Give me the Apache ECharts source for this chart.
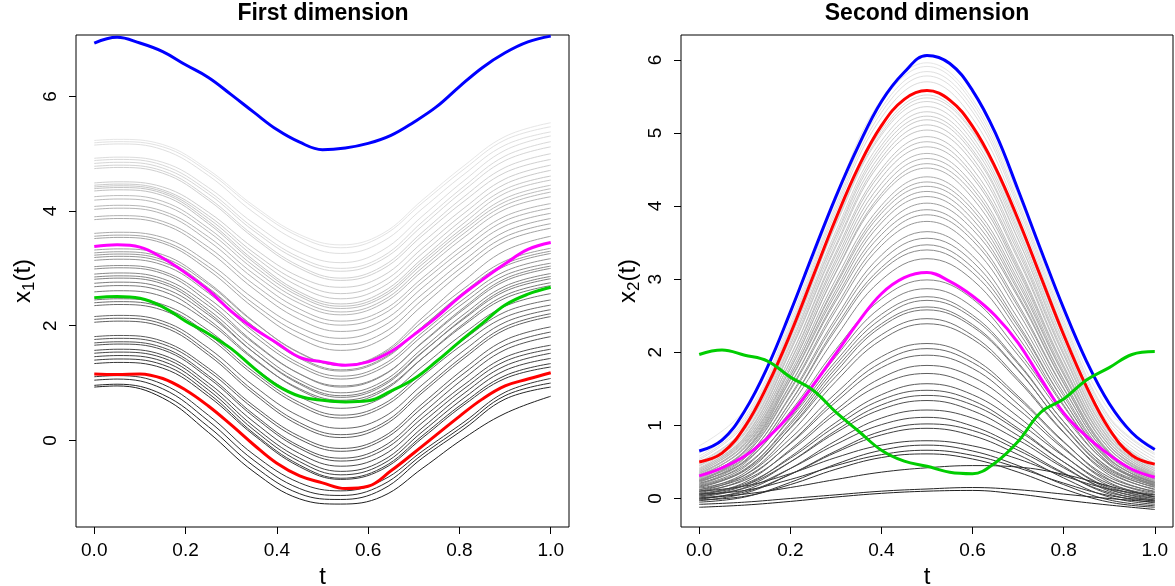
<!DOCTYPE html>
<html>
<head>
<meta charset="utf-8">
<script src="https://cdn.jsdelivr.net/npm/echarts@6/dist/echarts.min.js"></script>
<style>
  html, body { margin: 0; padding: 0; background: #ffffff; }
  #chart { width: 1175px; height: 586px; }
</style>
</head>
<body>
<div id="chart"></div>
<script>
// Sampling positions in t
const tFirst = [0, 0.05, 0.15, 0.25, 0.35, 0.45, 0.54, 0.63, 0.72, 0.81, 0.9, 1.0];
const tSecond = [0, 0.1, 0.2, 0.3, 0.4, 0.5, 0.6, 0.7, 0.8, 0.9, 1.0];
const tFine = [0, 0.05, 0.1, 0.15, 0.2, 0.25, 0.3, 0.35, 0.4, 0.45, 0.5,
               0.55, 0.6, 0.65, 0.7, 0.75, 0.8, 0.85, 0.9, 0.95, 1.0];

// Tick positions
const xTicks = [0, 0.2, 0.4, 0.6, 0.8, 1.0];
const yTicksFirst = [0, 2, 4, 6];
const yTicksSecond = [0, 1, 2, 3, 4, 5, 6];

// First dimension: sample curves (values at tFirst), top to bottom
const firstDimGray = [
  [5.23,5.25,5.16,4.72,4.09,3.59,3.41,3.60,4.20,4.79,5.30,5.54],
  [5.19,5.21,5.12,4.68,4.05,3.55,3.36,3.56,4.15,4.73,5.24,5.47],
  [5.15,5.17,5.07,4.62,3.97,3.46,3.26,3.46,4.05,4.64,5.15,5.38],
  [4.92,4.94,4.85,4.41,3.78,3.28,3.10,3.31,3.92,4.53,5.06,5.31],
  [4.88,4.90,4.80,4.35,3.70,3.19,3.00,3.20,3.82,4.43,4.96,5.21],
  [4.83,4.85,4.75,4.30,3.65,3.14,2.95,3.15,3.75,4.36,4.88,5.12],
  [4.78,4.80,4.70,4.23,3.57,3.04,2.83,3.03,3.64,4.25,4.76,5.00],
  [4.74,4.76,4.66,4.19,3.53,3.00,2.79,2.98,3.58,4.17,4.67,4.90],
  [4.49,4.51,4.42,3.98,3.35,2.85,2.67,2.86,3.46,4.05,4.56,4.80],
  [4.45,4.47,4.37,3.92,3.27,2.76,2.56,2.76,3.36,3.96,4.47,4.71],
  [4.42,4.44,4.34,3.87,3.21,2.68,2.47,2.67,3.27,3.87,4.38,4.61],
  [4.39,4.41,4.31,3.82,3.14,2.59,2.38,2.58,3.18,3.79,4.31,4.54],
  [4.35,4.37,4.27,3.78,3.10,2.55,2.34,2.53,3.13,3.72,4.22,4.45],
  [4.25,4.27,4.17,3.70,3.04,2.51,2.30,2.49,3.08,3.67,4.16,4.39],
  [4.19,4.21,4.11,3.64,2.98,2.45,2.24,2.43,3.02,3.61,4.10,4.33],
  [4.08,4.10,4.00,3.55,2.90,2.39,2.19,2.38,2.96,3.54,4.03,4.25],
  [4.03,4.05,3.95,3.48,2.82,2.29,2.08,2.26,2.84,3.42,3.91,4.13],
  [3.90,3.92,3.82,3.37,2.72,2.21,2.01,2.19,2.77,3.34,3.83,4.05],
  [3.85,3.87,3.77,3.30,2.64,2.11,1.90,2.08,2.67,3.25,3.74,3.96],
  [3.61,3.63,3.54,3.10,2.47,1.97,1.78,1.98,2.56,3.14,3.64,3.87],
  [3.56,3.58,3.48,3.03,2.38,1.87,1.67,1.86,2.46,3.05,3.55,3.78],
  [3.52,3.54,3.44,2.97,2.31,1.78,1.57,1.76,2.36,2.96,3.47,3.70],
  [3.32,3.34,3.24,2.75,2.07,1.52,1.31,1.52,2.15,2.78,3.31,3.56],
  [3.27,3.29,3.19,2.72,2.06,1.53,1.31,1.50,2.08,2.65,3.13,3.35],
  [3.23,3.25,3.15,2.66,1.98,1.43,1.21,1.40,1.99,2.59,3.08,3.30],
  [3.19,3.21,3.11,2.64,1.98,1.45,1.23,1.42,1.99,2.57,3.04,3.26],
  [3.14,3.16,3.06,2.57,1.89,1.34,1.12,1.31,1.89,2.47,2.95,3.17],
  [3.03,3.05,2.95,2.48,1.82,1.29,1.07,1.26,1.83,2.40,2.88,3.09],
  [2.99,3.01,2.91,2.41,1.71,1.16,0.93,1.12,1.72,2.32,2.82,3.04],
  [2.90,2.92,2.82,2.35,1.69,1.16,0.95,1.13,1.71,2.29,2.78,3.00],
  [2.85,2.87,2.77,2.28,1.60,1.05,0.83,1.02,1.61,2.20,2.69,2.91],
  [2.81,2.83,2.73,2.23,1.53,0.98,0.75,0.94,1.54,2.14,2.64,2.86],
  [2.74,2.76,2.66,2.19,1.53,1.00,0.78,0.97,1.55,2.12,2.60,2.82],
  [2.68,2.70,2.60,2.11,1.43,0.88,0.66,0.85,1.44,2.04,2.53,2.75],
  [2.59,2.61,2.51,2.06,1.41,0.90,0.70,0.88,1.44,2.01,2.48,2.70],
  [2.45,2.47,2.37,1.92,1.27,0.76,0.56,0.74,1.30,1.87,2.34,2.56],
  [2.40,2.42,2.32,1.85,1.19,0.66,0.44,0.62,1.19,1.76,2.24,2.45],
  [2.35,2.37,2.27,1.80,1.14,0.61,0.39,0.57,1.13,1.69,2.15,2.36],
  [2.16,2.18,2.08,1.61,0.95,0.42,0.21,0.39,0.98,1.57,2.06,2.28],
  [2.11,2.13,2.03,1.54,0.86,0.31,0.10,0.29,0.89,1.48,1.98,2.21],
  [2.06,2.08,1.98,1.49,0.81,0.26,0.05,0.24,0.84,1.43,1.93,2.16],
  [1.81,1.83,1.73,1.26,0.60,0.07,-0.14,0.05,0.65,1.25,1.75,1.98],
  [1.76,1.78,1.68,1.21,0.55,0.02,-0.19,0.00,0.58,1.17,1.66,1.89],
  [1.70,1.72,1.62,1.13,0.45,-0.10,-0.31,-0.12,0.48,1.08,1.58,1.81],
  [1.66,1.68,1.58,1.09,0.41,-0.14,-0.36,-0.18,0.40,0.97,1.45,1.66],
  [1.57,1.59,1.49,1.00,0.32,-0.23,-0.45,-0.27,0.32,0.90,1.38,1.59],
  [1.52,1.54,1.44,0.94,0.24,-0.31,-0.54,-0.36,0.23,0.82,1.30,1.52],
  [1.46,1.48,1.38,0.88,0.18,-0.37,-0.60,-0.42,0.16,0.74,1.22,1.43],
  [1.40,1.42,1.32,0.82,0.12,-0.43,-0.66,-0.48,0.09,0.66,1.13,1.34],
  [1.34,1.36,1.26,0.77,0.09,-0.46,-0.68,-0.51,0.05,0.62,1.08,1.28],
  [1.11,1.13,0.98,0.44,-0.25,-0.74,-0.88,-0.70,-0.18,0.32,0.84,1.08],
  [1.05,1.07,0.90,0.34,-0.35,-0.84,-0.96,-0.78,-0.24,0.26,0.78,1.00],
  [0.96,0.98,0.80,0.24,-0.45,-0.93,-1.03,-0.86,-0.30,0.20,0.72,0.93],
  [0.93,0.95,0.74,0.14,-0.55,-1.02,-1.11,-0.98,-0.48,0.04,0.47,0.77]
];

// First dimension: highlighted curves (values at tFine)
const firstDimBlue    = [6.93,7.03,6.93,6.78,6.55,6.33,6.03,5.72,5.42,5.20,5.07,5.10,5.18,5.32,5.55,5.82,6.17,6.50,6.76,6.95,7.05];
const firstDimMagenta = [3.38,3.41,3.37,3.18,2.92,2.62,2.25,1.95,1.70,1.45,1.37,1.31,1.37,1.55,1.84,2.15,2.50,2.80,3.08,3.33,3.45];
const firstDimGreen   = [2.49,2.51,2.48,2.33,2.08,1.86,1.60,1.26,0.96,0.77,0.70,0.67,0.69,0.86,1.07,1.38,1.72,2.04,2.36,2.55,2.67];
const firstDimRed     = [1.16,1.15,1.16,1.08,0.88,0.60,0.27,-0.08,-0.40,-0.62,-0.74,-0.84,-0.80,-0.53,-0.22,0.10,0.42,0.72,0.95,1.07,1.18];

// Second dimension: sample curves (values at tSecond), highest peak first
const secondDimGray = [
  [0.72,1.22,2.53,4.15,5.46,5.96,5.46,4.15,2.51,1.20,0.70],
  [0.62,1.12,2.45,4.08,5.41,5.91,5.41,4.08,2.45,1.12,0.62],
  [0.58,1.08,2.39,4.02,5.34,5.84,5.35,4.03,2.41,1.10,0.60],
  [0.55,1.05,2.35,3.97,5.28,5.78,5.29,3.98,2.36,1.06,0.56],
  [0.53,1.02,2.32,3.92,5.21,5.70,5.20,3.91,2.31,1.01,0.52],
  [0.48,0.96,2.21,3.78,5.04,5.52,5.03,3.77,2.20,0.93,0.45],
  [0.46,0.94,2.19,3.75,5.00,5.48,5.01,3.75,2.21,0.96,0.48],
  [0.50,0.96,2.19,3.74,4.97,5.43,4.95,3.70,2.15,0.90,0.42],
  [0.44,0.91,2.14,3.66,4.89,5.36,4.89,3.66,2.14,0.91,0.44],
  [0.42,0.88,2.10,3.61,4.83,5.29,4.83,3.61,2.09,0.87,0.40],
  [0.45,0.90,2.10,3.58,4.78,5.23,4.77,3.55,2.05,0.85,0.38],
  [0.40,0.85,2.05,3.53,4.72,5.18,4.73,3.54,2.06,0.86,0.41],
  [0.38,0.83,2.02,3.47,4.66,5.11,4.66,3.47,2.00,0.81,0.36],
  [0.41,0.84,2.01,3.44,4.61,5.04,4.60,3.42,1.97,0.80,0.35],
  [0.36,0.80,1.94,3.37,4.51,4.95,4.51,3.37,1.96,0.82,0.38],
  [0.39,0.81,1.94,3.33,4.46,4.88,4.44,3.31,1.90,0.77,0.33],
  [0.34,0.76,1.88,3.27,4.39,4.81,4.39,3.27,1.88,0.76,0.34],
  [0.37,0.78,1.87,3.22,4.31,4.72,4.30,3.19,1.82,0.72,0.30],
  [0.33,0.74,1.82,3.16,4.24,4.65,4.24,3.15,1.81,0.73,0.32],
  [0.30,0.71,1.77,3.10,4.17,4.58,4.18,3.11,1.78,0.72,0.31],
  [0.35,0.74,1.78,3.09,4.13,4.52,4.11,3.05,1.73,0.68,0.27],
  [0.31,0.70,1.72,3.00,4.01,4.40,4.01,2.99,1.70,0.68,0.29],
  [0.28,0.66,1.67,2.94,3.95,4.33,3.95,2.94,1.69,0.68,0.30],
  [0.32,0.69,1.68,2.91,3.90,4.27,3.89,2.88,1.63,0.64,0.25],
  [0.27,0.64,1.63,2.85,3.83,4.20,3.82,2.84,1.62,0.63,0.26],
  [0.29,0.65,1.62,2.80,3.77,4.13,3.75,2.78,1.58,0.61,0.23],
  [0.25,0.61,1.55,2.74,3.68,4.04,3.68,2.75,1.57,0.62,0.27],
  [0.30,0.64,1.56,2.70,3.61,3.95,3.59,2.66,1.51,0.58,0.22],
  [0.24,0.59,1.50,2.62,3.53,3.88,3.53,2.62,1.50,0.59,0.24],
  [0.26,0.59,1.48,2.57,3.46,3.79,3.44,2.55,1.44,0.55,0.20],
  [0.22,0.55,1.41,2.47,3.33,3.65,3.32,2.46,1.40,0.54,0.21],
  [0.25,0.56,1.39,2.42,3.25,3.56,3.24,2.39,1.34,0.51,0.18],
  [0.20,0.51,1.32,2.35,3.16,3.47,3.16,2.35,1.34,0.53,0.22],
  [0.23,0.52,1.32,2.31,3.11,3.40,3.09,2.29,1.28,0.48,0.17],
  [0.19,0.48,1.26,2.21,2.99,3.28,2.99,2.21,1.26,0.48,0.19],
  [0.24,0.50,1.19,2.04,2.73,2.99,2.73,2.02,1.17,0.46,0.20],
  [0.18,0.43,1.11,1.94,2.62,2.87,2.62,1.96,1.13,0.47,0.22],
  [0.21,0.45,1.09,1.88,2.52,2.76,2.51,1.86,1.05,0.41,0.15],
  [0.15,0.39,1.04,1.83,2.46,2.71,2.47,1.84,1.05,0.42,0.18],
  [0.17,0.40,1.01,1.78,2.39,2.62,2.38,1.76,0.98,0.37,0.12],
  [0.12,0.35,0.97,1.73,2.35,2.58,2.35,1.75,0.99,0.39,0.16],
  [0.16,0.38,0.96,1.67,2.24,2.46,2.23,1.64,0.91,0.32,0.09],
  [0.10,0.32,0.89,1.60,2.17,2.39,2.18,1.61,0.90,0.35,0.13],
  [0.14,0.32,0.82,1.44,1.94,2.12,1.92,1.40,0.78,0.26,0.06],
  [0.08,0.27,0.76,1.37,1.86,2.05,1.86,1.37,0.77,0.29,0.10],
  [0.12,0.29,0.75,1.32,1.79,1.96,1.78,1.29,0.70,0.22,0.03],
  [0.05,0.22,0.67,1.21,1.65,1.82,1.66,1.22,0.68,0.25,0.08],
  [0.10,0.25,0.65,1.16,1.56,1.71,1.54,1.12,0.59,0.17,0.00],
  [0.03,0.18,0.57,1.04,1.42,1.57,1.42,1.04,0.58,0.20,0.05],
  [0.07,0.20,0.55,0.99,1.35,1.48,1.34,0.96,0.50,0.13,-0.02],
  [0.02,0.15,0.50,0.93,1.28,1.41,1.28,0.93,0.50,0.15,0.02],
  [0.06,0.18,0.50,0.90,1.22,1.34,1.20,0.86,0.44,0.10,-0.04],
  [-0.01,0.11,0.41,0.79,1.10,1.21,1.10,0.80,0.42,0.12,0.00],
  [0.04,0.14,0.41,0.74,1.01,1.11,0.99,0.70,0.35,0.06,-0.06],
  [-0.03,0.07,0.33,0.65,0.92,1.02,0.93,0.66,0.34,0.08,-0.02],
  [0.01,0.09,0.33,0.63,0.87,0.96,0.86,0.60,0.28,0.02,-0.08],
  [0.10,0.17,0.34,0.56,0.73,0.79,0.72,0.54,0.31,0.13,0.05],
  [-0.05,0.02,0.22,0.47,0.66,0.73,0.65,0.45,0.19,-0.02,-0.10],
  [0.06,0.11,0.26,0.45,0.60,0.66,0.59,0.42,0.21,0.04,-0.03],
  [-0.02,0.03,0.19,0.40,0.56,0.61,0.54,0.36,0.13,-0.05,-0.12],
  [0.00,0.06,0.15,0.26,0.36,0.42,0.45,0.43,0.33,0.17,0.02],
  [-0.08,-0.05,0.00,0.05,0.10,0.13,0.15,0.12,0.06,0.00,-0.05],
  [-0.12,-0.09,-0.04,0.02,0.07,0.10,0.11,0.06,-0.02,-0.09,-0.15]
];

// Second dimension: highlighted curves (values at tFine)
const secondDimBlue    = [0.65,0.80,1.20,1.80,2.55,3.35,4.13,4.83,5.43,5.83,6.06,5.95,5.58,5.00,4.22,3.40,2.60,1.88,1.30,0.90,0.67];
const secondDimRed     = [0.50,0.62,0.98,1.55,2.25,3.04,3.83,4.54,5.10,5.46,5.58,5.45,5.09,4.53,3.82,3.03,2.24,1.53,0.95,0.59,0.47];
const secondDimMagenta = [0.31,0.42,0.58,0.83,1.15,1.55,1.98,2.42,2.80,3.02,3.09,2.97,2.77,2.50,2.13,1.64,1.17,0.85,0.60,0.40,0.29];
const secondDimGreen   = [1.97,2.03,1.96,1.88,1.66,1.48,1.18,0.92,0.66,0.51,0.44,0.36,0.34,0.49,0.78,1.18,1.36,1.62,1.79,1.97,2.01];

const FONT = "'Liberation Sans', Arial, Helvetica, sans-serif";

// Grey level by rank: light for the upper curves, dark for the lower ones
function greyShade(rank, count) {
  const r = rank / (count - 1);
  const level = Math.round(255 * (0.12 + 0.78 * Math.pow(1 - r, 0.8)));
  return 'rgb(' + level + ',' + level + ',' + level + ')';
}

function curve(panel, ts, vals, color, width, z) {
  return {
    type: 'line',
    xAxisIndex: panel,
    yAxisIndex: panel,
    data: ts.map((t, i) => [t, vals[i]]),
    smooth: 0.4,
    showSymbol: false,
    symbol: 'none',
    silent: true,
    animation: false,
    z: z,
    lineStyle: { color: color, width: width }
  };
}

function xAxisFor(grid) {
  return {
    type: 'value', gridIndex: grid, min: -0.04, max: 1.04,
    axisLine: { show: false, onZero: false },
    splitLine: { show: false },
    axisTick: { show: true, customValues: xTicks, length: 7, lineStyle: { color: '#000', width: 1 } },
    axisLabel: { customValues: xTicks, formatter: v => v.toFixed(1), fontSize: 19, color: '#000', fontFamily: FONT, margin: 14 },
    name: 't', nameLocation: 'middle', nameGap: 36,
    nameTextStyle: { fontSize: 24, color: '#000', fontFamily: FONT }
  };
}

function yAxisFor(grid, min, max, ticks, sub) {
  return {
    type: 'value', gridIndex: grid, min: min, max: max,
    axisLine: { show: false, onZero: false },
    splitLine: { show: false },
    axisTick: { show: true, customValues: ticks, length: 7, lineStyle: { color: '#000', width: 1 } },
    axisLabel: { customValues: ticks, rotate: 90, fontSize: 19, color: '#000', fontFamily: FONT, margin: 16 },
    name: '{m|x}{s|' + sub + '}{m|(t)}',
    nameLocation: 'middle', nameRotate: 90, nameGap: 38,
    nameTextStyle: {
      color: '#000', fontFamily: FONT,
      rich: {
        m: { fontSize: 24, lineHeight: 30, color: '#000', fontFamily: FONT },
        s: { fontSize: 17, lineHeight: 14, verticalAlign: 'bottom', color: '#000', fontFamily: FONT }
      }
    }
  };
}

const series = [];
firstDimGray.forEach((vals, i) => series.push(curve(0, tFirst, vals, greyShade(i, firstDimGray.length), 1, 2)));
series.push(curve(0, tFine, firstDimMagenta, '#ff00ff', 3, 3));
series.push(curve(0, tFine, firstDimGreen, '#00cd00', 3, 3));
series.push(curve(0, tFine, firstDimRed, '#ff0000', 3, 3));
series.push(curve(0, tFine, firstDimBlue, '#0000ff', 3, 3));

secondDimGray.forEach((vals, i) => series.push(curve(1, tSecond, vals, greyShade(i, secondDimGray.length), 1, 2)));
series.push(curve(1, tFine, secondDimMagenta, '#ff00ff', 3, 3));
series.push(curve(1, tFine, secondDimRed, '#ff0000', 3, 3));
series.push(curve(1, tFine, secondDimBlue, '#0000ff', 3, 3));
series.push(curve(1, tFine, secondDimGreen, '#00cd00', 3, 3));

const chart = echarts.init(document.getElementById('chart'), null, { renderer: 'canvas', width: 1175, height: 586 });
chart.setOption({
  backgroundColor: '#ffffff',
  animation: false,
  grid: [
    { left: 76, top: 35, width: 493, height: 492, show: true, borderColor: '#000', borderWidth: 1, backgroundColor: 'transparent', containLabel: false, outerBoundsMode: 'none' },
    { left: 681, top: 35, width: 492, height: 492, show: true, borderColor: '#000', borderWidth: 1, backgroundColor: 'transparent', containLabel: false, outerBoundsMode: 'none' }
  ],
  xAxis: [xAxisFor(0), xAxisFor(1)],
  yAxis: [
    yAxisFor(0, -1.51, 7.07, yTicksFirst, '1'),
    yAxisFor(1, -0.39, 6.34, yTicksSecond, '2')
  ],
  graphic: [
    { type: 'text', x: 323, y: 14, style: { text: 'First dimension', font: 'bold 23px ' + FONT, fill: '#000', align: 'center', verticalAlign: 'middle', textAlign: 'center', textVerticalAlign: 'middle' } },
    { type: 'text', x: 927, y: 14, style: { text: 'Second dimension', font: 'bold 23px ' + FONT, fill: '#000', align: 'center', verticalAlign: 'middle', textAlign: 'center', textVerticalAlign: 'middle' } }
  ],
  series: series
});
</script>
</body>
</html>
